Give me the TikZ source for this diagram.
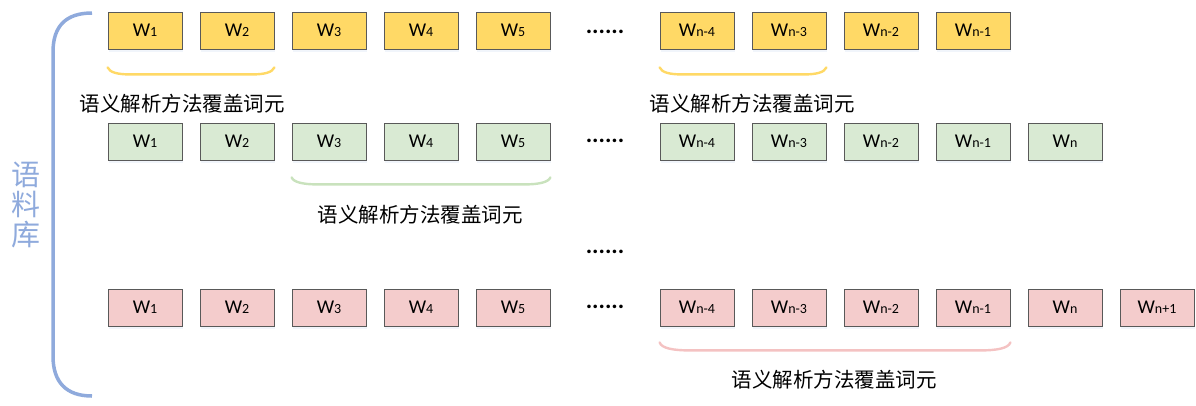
\documentclass[tikz,border=0pt]{standalone}
\usepackage{fontspec}
\setmainfont{Carlito}
\newfontfamily\cjk{Noto Sans CJK SC}
\usetikzlibrary{calc,shadows}
\definecolor{yelF}{HTML}{FFD966}
\definecolor{grnF}{HTML}{D9EAD3}
\definecolor{redF}{HTML}{F4CCCC}
\definecolor{yelB}{HTML}{FFD966}
\definecolor{grnB}{HTML}{C9E2BD}
\definecolor{redB}{HTML}{F4C2C2}
\definecolor{bluB}{HTML}{8FAADC}
\definecolor{edgeC}{HTML}{595959}
\newcommand\wlab[1]{W{\fontsize{14}{14}\selectfont #1}}
\tikzset{
  wbox/.style={draw=edgeC, line width=0.8pt, minimum width=74pt, minimum height=37pt,
    inner sep=0pt, font=\fontsize{19.5}{19.5}\selectfont,
    drop shadow={opacity=0.12, fill=bluB, shadow xshift=1pt, shadow yshift=-2.5pt}},
  ybox/.style={wbox, fill=yelF},
  gbox/.style={wbox, fill=grnF},
  rbox/.style={wbox, fill=redF},
  dotsnode/.style={font=\fontsize{24}{24}\bfseries\selectfont, anchor=base, inner sep=0pt},
  cover/.style={font=\cjk\fontsize{20.5}{20.5}\selectfont, inner sep=0pt},
  brace/.style={line width=2.4pt, line cap=round},
}
\begin{document}
\begin{tikzpicture}[x=1pt,y=-1pt]
\useasboundingbox (0,0) rectangle (1196,405);
% left big brace
\coordinate (bt) at (92,13);
\coordinate (bb) at (92,396);
\draw[bluB, line width=3.5pt] (bt) .. controls (66,13) and (53,26) .. (53,52)
  -- (53,356) .. controls (53,382) and (66,396) .. (bb);
\node[bluB, font=\cjk\fontsize{29}{30}\selectfont, align=center, inner sep=0pt] (corpus) at (26,205) {语\\料\\库};
% row 1 (yellow)
\foreach \i/\x/\t in {1/145/1,2/237/2,3/329/3,4/421/4,5/513/5,6/697/n-4,7/789/n-3,8/881/n-2,9/973/n-1}
  \node[ybox] (y\i) at (\x,30.5) {\wlab{\t}};
% row 2 (green)
\foreach \i/\x/\t in {1/145/1,2/237/2,3/329/3,4/421/4,5/513/5,6/697/n-4,7/789/n-3,8/881/n-2,9/973/n-1,10/1065/n}
  \node[gbox] (g\i) at (\x,141.5) {\wlab{\t}};
% row 3 (red)
\foreach \i/\x/\t in {1/145/1,2/237/2,3/329/3,4/421/4,5/513/5,6/697/n-4,7/789/n-3,8/881/n-2,9/973/n-1,10/1065/n,11/1157/n+1}
  \node[rbox] (r\i) at (\x,307.5) {\wlab{\t}};
% dots
\node[dotsnode] (d1) at (605,33) {......};
\node[dotsnode] (d2) at (605,142) {......};
\node[dotsnode] (d3) at (605,253) {......};
\node[dotsnode] (d4) at (605,308) {......};
% braces
\draw[brace, yelB] ($(y1.south west)+(0,18)$) .. controls +(2,5) and +(-12,0) .. ($(y1.south west)+(22,25)$)
  -- ($(y2.south east)+(-22,25)$) .. controls +(12,0) and +(-2,5) .. ($(y2.south east)+(0,18)$);
\draw[brace, yelB] ($(y6.south west)+(0,18)$) .. controls +(2,5) and +(-12,0) .. ($(y6.south west)+(22,25)$)
  -- ($(y7.south east)+(-22,25)$) .. controls +(12,0) and +(-2,5) .. ($(y7.south east)+(0,18)$);
\draw[brace, grnB] ($(g3.south west)+(0,17)$) .. controls +(2,5) and +(-14,0) .. ($(g3.south west)+(26,24)$)
  -- ($(g5.south east)+(-26,24)$) .. controls +(14,0) and +(-2,5) .. ($(g5.south east)+(0,17)$);
\draw[brace, redB] ($(r6.south west)+(0,16)$) .. controls +(2,6) and +(-16,0) .. ($(r6.south west)+(30,24)$)
  -- ($(r9.south east)+(-30,24)$) .. controls +(16,0) and +(-2,6) .. ($(r9.south east)+(0,16)$);
% labels
\node[cover] (c1) at (182,104) {语义解析方法覆盖词元};
\node[cover] (c2) at (752,104) {语义解析方法覆盖词元};
\node[cover] (c3) at (420,215) {语义解析方法覆盖词元};
\node[cover] (c4) at (834,380) {语义解析方法覆盖词元};
\end{tikzpicture}
\end{document}
